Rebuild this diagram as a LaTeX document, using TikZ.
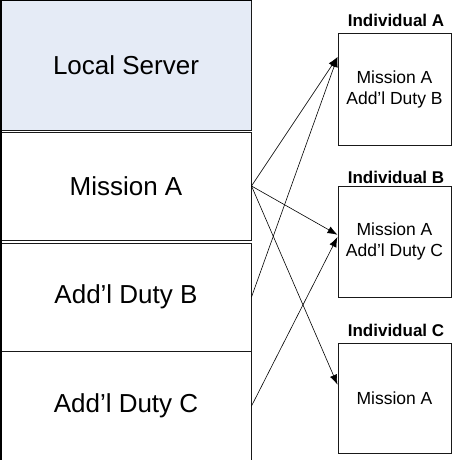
\documentclass[tikz,border=0pt]{standalone}
\usepackage{fontspec}
\setmainfont{Liberation Sans}
\usetikzlibrary{arrows.meta,calc}
\definecolor{srvblue}{HTML}{E5EBF6}
\begin{document}
\begin{tikzpicture}[x=1pt,y=-1pt,
  leftbox/.style={draw=black!90,line width=1pt,rectangle,minimum width=250pt,inner sep=0pt,
    font=\fontsize{26}{30}\selectfont},
  indbox/.style={draw=black!90,line width=1pt,rectangle,minimum width=113pt,minimum height=111pt,
    inner sep=0pt,align=center,font=\fontsize{17.5}{21}\selectfont},
  indlabel/.style={anchor=base,inner sep=0pt,font=\fontsize{17}{19}\selectfont\bfseries},
  link/.style={line width=0.6pt,-{Latex[length=10pt,width=7.5pt]}}]
\useasboundingbox (0,0) rectangle (452,460);
% left column
\node[leftbox,fill=srvblue,minimum height=129pt] (ls) at (126,65.5) {Local Server};
\node[leftbox,minimum height=108pt] (ma) at (126,186) {Mission A};
\node[leftbox,minimum height=108pt] (db) at (126,297) {Add’l Duty B};
\node[leftbox,minimum height=110pt] (dc) at (126,406) {Add’l Duty C};
\draw[line width=2.2pt] (ls.north west) -- (dc.south west);
\draw[line width=2pt] (ls.north west) -- (ls.north east);
% individuals
\node[indbox] (ia) at (394.5,89.5) {Mission A\\Add’l Duty B};
\node[indbox] (ib) at (394.5,241.5) {Mission A\\Add’l Duty C};
\node[indbox,minimum height=110pt] (ic) at (394.5,398) {Mission A};
\node[indlabel] (la) at (396,27) {Individual A};
\node[indlabel] (lb) at (396,183) {Individual B};
\node[indlabel] (lc) at (396,336) {Individual C};
% arrow targets
\coordinate (ta) at ($(ia.north west)!0.21!(ia.south west)$);
\coordinate (tb) at ($(ib.north west)!0.44!(ib.south west)$);
\coordinate (tb2) at ($(ib.north west)!0.46!(ib.south west)$);
\coordinate (tc) at ($(ic.north west)!0.38!(ic.south west)$);
% connectors
\draw[link] (ma.east) -- (ta);
\draw[link] (ma.east) -- (tb);
\draw[link] (ma.east) -- (tc);
\draw[link] (db.east) -- (ta);
\draw[link] (dc.east) -- (tb2);
\end{tikzpicture}
\end{document}
